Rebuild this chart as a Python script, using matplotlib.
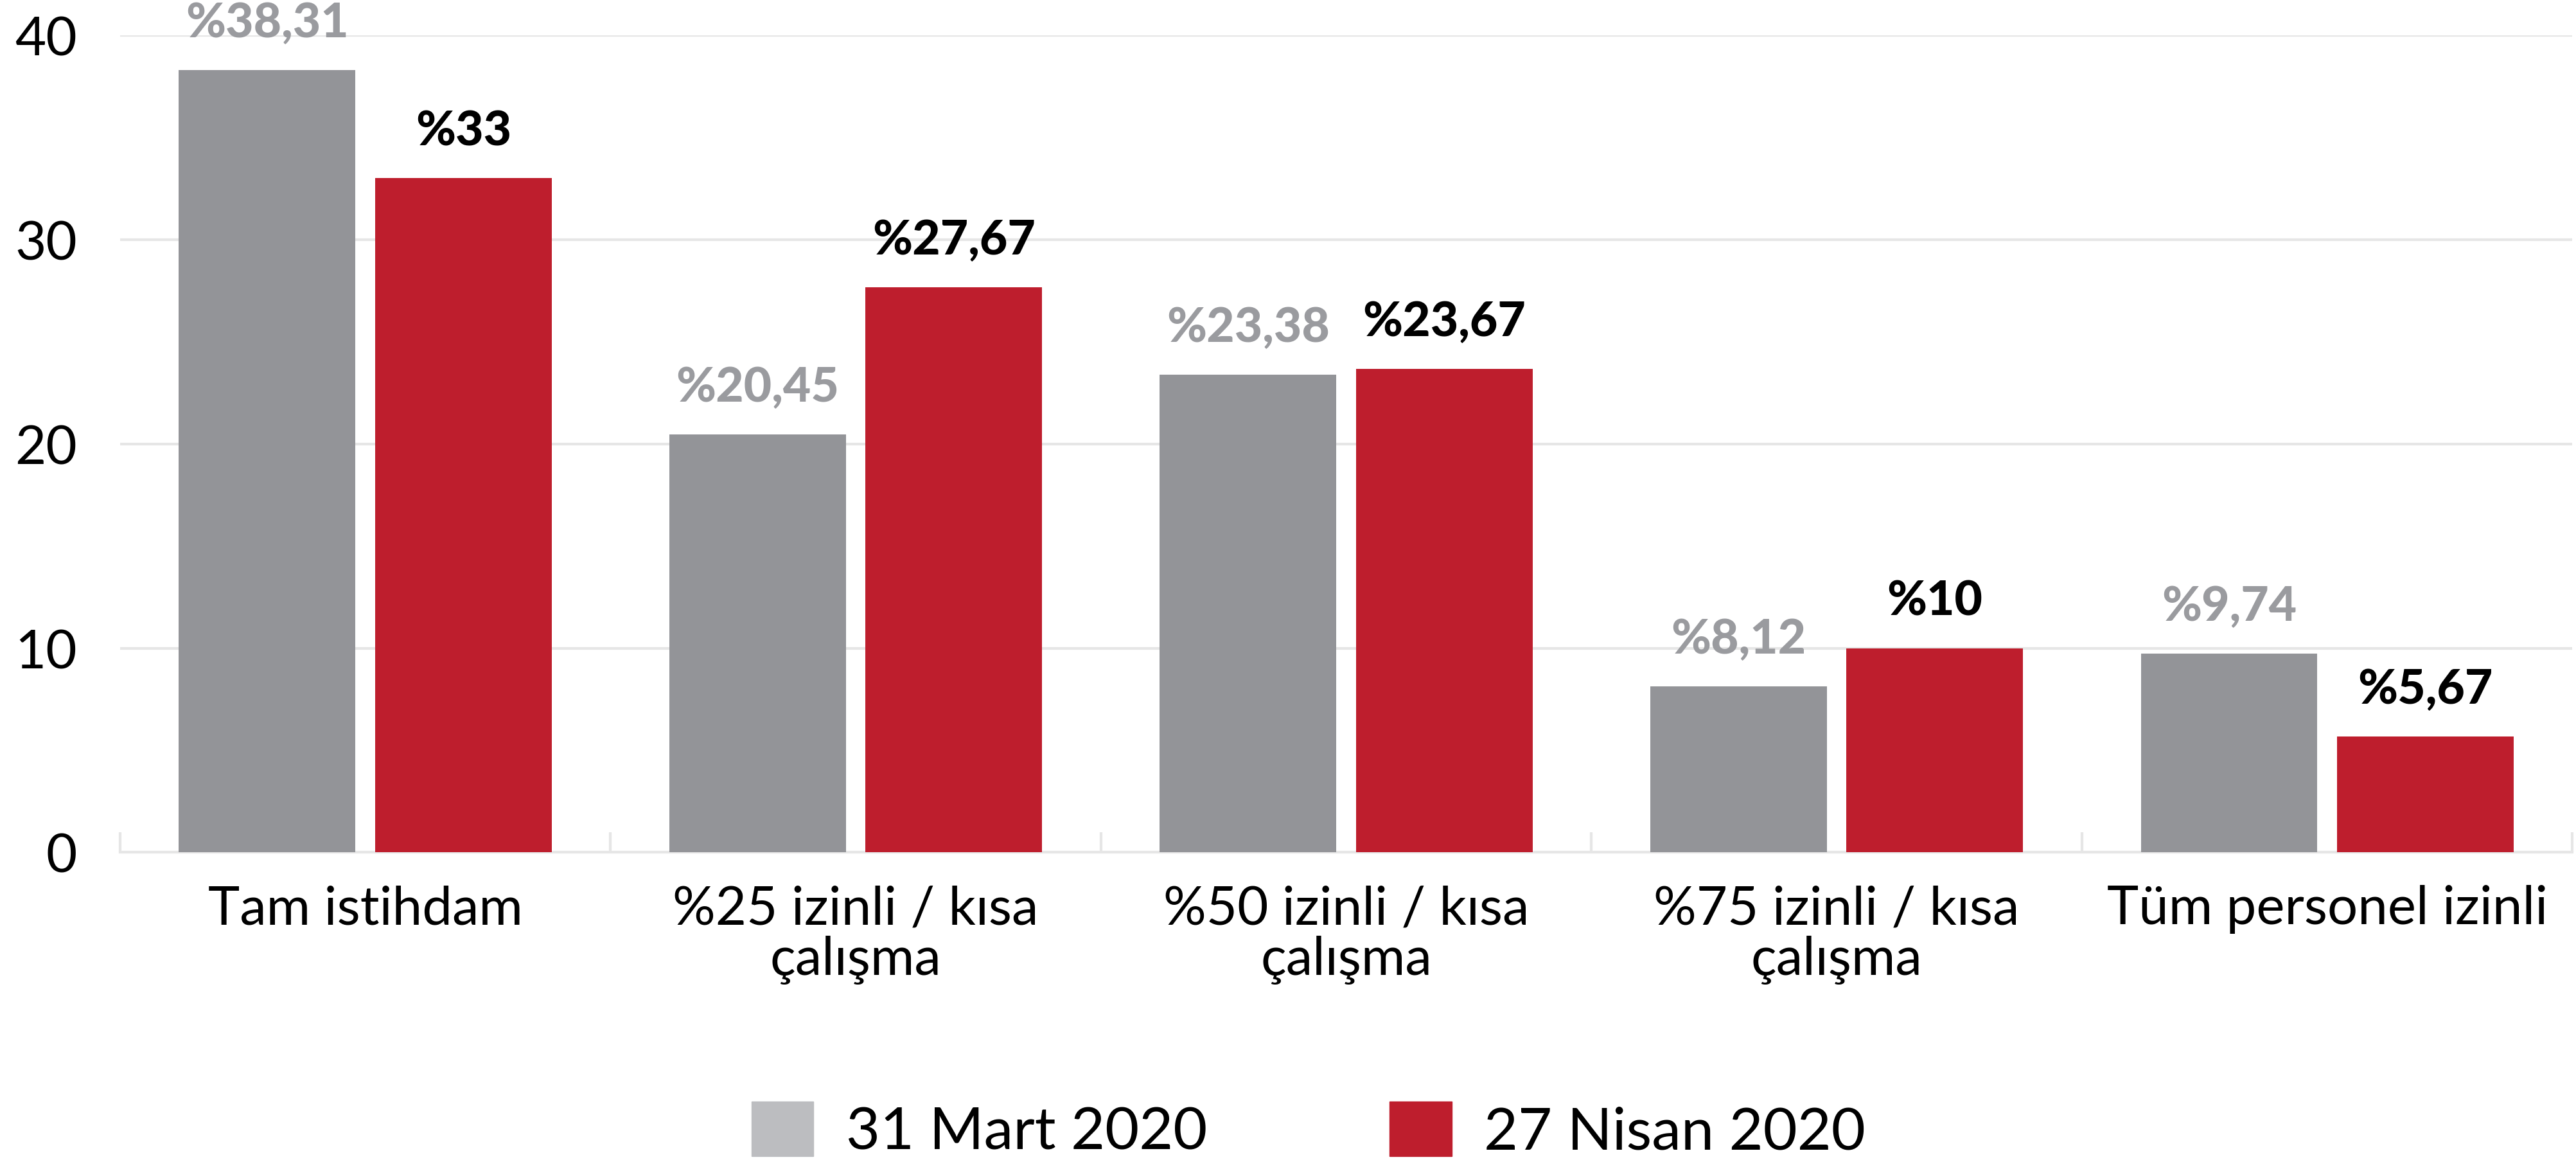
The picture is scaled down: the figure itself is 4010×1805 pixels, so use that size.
import numpy as np
import matplotlib
matplotlib.use("Agg")
import matplotlib.pyplot as plt
from matplotlib.patches import Patch

# --- data -------------------------------------------------------------------
categories = ["Tam istihdam", "%25 izinli / kısa\nçalışma", "%50 izinli / kısa\nçalışma",
              "%75 izinli / kısa\nçalışma", "Tüm personel izinli"]
mart = [38.31, 20.45, 23.38, 8.12, 9.74]
nisan = [33.0, 27.67, 23.67, 10.0, 5.67]
mart_labels = ["%38,31", "%20,45", "%23,38", "%8,12", "%9,74"]
nisan_labels = ["%33", "%27,67", "%23,67", "%10", "%5,67"]
series_names = ["31 Mart 2020", "27 Nisan 2020"]
yticks = [0, 10, 20, 30, 40]

GRAY, GRAY_LEG, RED = "#939498", "#bcbdc0", "#be1e2d"
GRAY_TXT, GRID = "#9a9b9f", "#e6e6e6"

plt.rcParams["font.family"] = ["Lato", "DejaVu Sans"]

fig = plt.figure(figsize=(40.10, 18.06), dpi=100)
ax = fig.add_axes([0.0466, 0.265, 0.952, 0.704])

x = np.arange(len(categories))
w, off = 0.36, 0.2
b1 = ax.bar(x - off, mart, w, color=GRAY, zorder=3)
b2 = ax.bar(x + off, nisan, w, color=RED, zorder=3)

for bars, labs, col in [(b1, mart_labels, GRAY_TXT), (b2, nisan_labels, "black")]:
    for b, t in zip(bars, labs):
        ax.annotate(t, (b.get_x() + b.get_width() / 2, b.get_height()),
                    xytext=(0, 28), textcoords="offset points", ha="center", va="bottom",
                    fontsize=54, fontweight="black", color=col, clip_on=False)

ax.set_xlim(-0.5, len(categories) - 0.5)
ax.set_ylim(0, 40)
ax.set_yticks(yticks)
ax.tick_params(axis="y", length=0, pad=48, labelsize=60)
ax.set_xticks(x)
ax.set_xticklabels(categories, fontsize=60, linespacing=1.05)
ax.tick_params(axis="x", length=0, pad=36)
ax.set_xticks(np.arange(-0.5, len(categories)), minor=True)
ax.tick_params(axis="x", which="minor", direction="in", length=22, width=3, color=GRID)
ax.grid(axis="y", color=GRID, linewidth=3, zorder=0)
for s in ["top", "right", "left"]:
    ax.spines[s].set_visible(False)
ax.spines["bottom"].set_color(GRID)
ax.spines["bottom"].set_linewidth(3)

handles = [Patch(color=GRAY_LEG), Patch(color=RED)]
fig.legend(handles, series_names, loc="lower center", bbox_to_anchor=(0.508, -0.045),
           ncol=2, frameon=False, fontsize=66, handlelength=1.05, handleheight=1.05,
           columnspacing=3.1, handletextpad=0.55)

fig.savefig("out.png", dpi=100)
